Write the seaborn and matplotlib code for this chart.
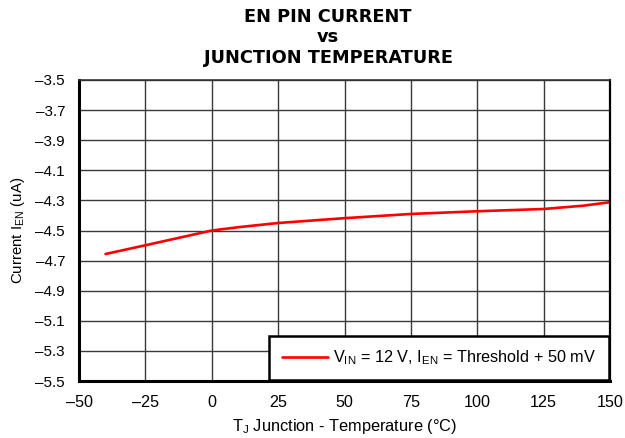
import matplotlib
matplotlib.use('Agg')
import matplotlib.pyplot as plt
import seaborn as sns
import pandas as pd
import numpy as np

# 读图得到的数据
temp_c = [-40, -25, 0, 10, 25, 50, 75, 100, 125, 140, 150]
current_ua = [-4.656, -4.598, -4.50, -4.478, -4.450, -4.418, -4.390, -4.372, -4.357, -4.335, -4.312]
series_label = r'V$_{\mathregular{IN}}$ = 12 V, I$_{\mathregular{EN}}$ = Threshold + 50 mV'

x_ticks = [-50, -25, 0, 25, 50, 75, 100, 125, 150]
y_ticks = [-3.5, -3.7, -3.9, -4.1, -4.3, -4.5, -4.7, -4.9, -5.1, -5.3, -5.5]

sns.set_style('white')
plt.rcParams['font.family'] = ['Liberation Sans', 'DejaVu Sans']
plt.rcParams['axes.unicode_minus'] = True
for k in ['text.color', 'axes.labelcolor', 'xtick.color', 'ytick.color']:
    plt.rcParams[k] = 'black'

df = pd.DataFrame({'T': temp_c, 'I': current_ua})

fig = plt.figure(figsize=(6.25, 4.38), dpi=100)
ax = fig.add_axes([0.1264, 0.130, 0.8496, 0.6874])

sns.lineplot(data=df, x='T', y='I', ax=ax, color='#ff0000', linewidth=1.9,
             label=series_label)

ax.set_xlim(-50, 150)
ax.set_ylim(-5.5, -3.5)
ax.set_xticks(x_ticks)
ax.set_yticks(y_ticks)
ax.set_xticklabels([f'{v}'.replace('-', '\u2013') for v in x_ticks], fontsize=11.6)
ax.set_yticklabels([f'{v:.1f}'.replace('-', '\u2013') for v in y_ticks], fontsize=11)
ax.tick_params(axis='x', length=0, pad=10)
ax.tick_params(axis='y', length=0, pad=10)
ax.grid(True, color='#3a3a3a', linewidth=1.0)
ax.set_axisbelow(True)

for side in ['left', 'bottom']:
    ax.spines[side].set_linewidth(2.2)
    ax.spines[side].set_color('black')
ax.spines['right'].set_linewidth(1.6)
ax.spines['right'].set_color('black')
ax.spines['top'].set_linewidth(1.2)
ax.spines['top'].set_color('#333333')

ax.set_xlabel(r'T$_{\mathregular{J}}$ Junction - Temperature (°C)', fontsize=11.8, labelpad=5)
ax.set_ylabel(r'Current I$_{\mathregular{EN}}$ (uA)', fontsize=10.8, labelpad=6)

fig.text(0.525, 0.981, 'EN PIN CURRENT\nvs\nJUNCTION TEMPERATURE', ha='center', va='top',
         fontsize=12.8, fontweight='bold', linespacing=1.15,
         family=['DejaVu Sans'])

leg = ax.legend(loc='lower right', fontsize=11.7, frameon=True, fancybox=False,
                borderpad=0.8, handlelength=2.8, handletextpad=0.35, borderaxespad=0.05)
leg.get_frame().set_edgecolor('black')
leg.get_frame().set_linewidth(1.8)
leg.get_frame().set_alpha(1)

fig.savefig('out.png', dpi=100)
